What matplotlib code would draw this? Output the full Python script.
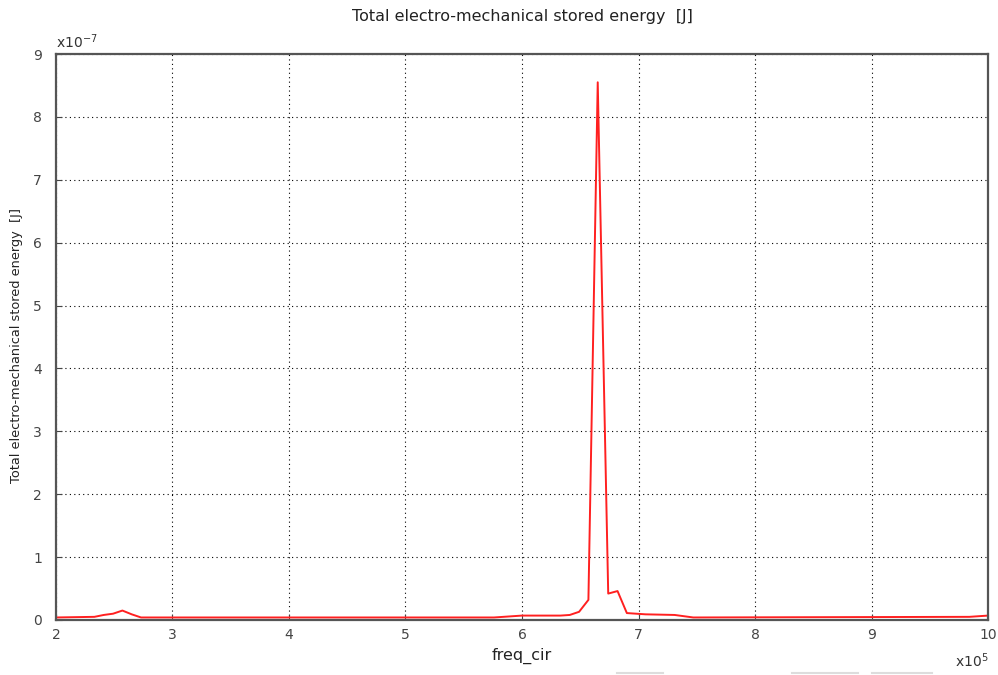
import matplotlib
matplotlib.use("Agg")
import matplotlib.pyplot as plt
from matplotlib.lines import Line2D

# frequency sweep breakpoints [x1e5 Hz] and stored energy [x1e-7 J]
freq = [2.00, 2.33, 2.41, 2.49, 2.57, 2.65, 2.73, 5.76, 5.92, 6.00, 6.33,
        6.41, 6.49, 6.57, 6.65, 6.74, 6.82, 6.90, 7.06, 7.31, 7.47, 9.84, 10.00]
energy = [0.04, 0.05, 0.08, 0.10, 0.15, 0.09, 0.04, 0.04, 0.06, 0.07, 0.07,
          0.08, 0.13, 0.32, 8.55, 0.42, 0.46, 0.11, 0.09, 0.08, 0.04, 0.05, 0.07]

xticks = [2, 3, 4, 5, 6, 7, 8, 9, 10]
yticks = [0, 1, 2, 3, 4, 5, 6, 7, 8, 9]

plt.rcParams['font.family'] = ['DejaVu Sans']
fig = plt.figure(figsize=(9.98, 6.75), dpi=100)
ax = fig.add_axes([0.0561, 0.0815, 0.9339, 0.8385])

ax.plot(freq, energy, color='#ff2020', lw=1.4)

ax.set_xlim(2, 10)
ax.set_ylim(0, 9)
ax.set_xticks(xticks)
ax.set_yticks(yticks)
ax.tick_params(direction='in', length=4, labelsize=10, colors='#444444')
ax.tick_params(axis='x', pad=6)
ax.tick_params(axis='y', pad=10)
ax.grid(True, color='black', linestyle=(0, (1, 3)), lw=0.8)
for s in ax.spines.values():
    s.set_color('#555555')
    s.set_linewidth(1.6)

ax.set_title('Total electro-mechanical stored energy  [J]', fontsize=11.5, pad=24, color='#222222')
ax.set_xlabel('freq_cir', fontsize=11.5, labelpad=4, color='#222222')
ax.set_ylabel('Total electro-mechanical stored energy  [J]', fontsize=9.3, color='#222222')
ax.yaxis.set_label_coords(-0.035, 0.485)

ax.text(0.0, 1.005, r'x10$^{-7}$', transform=ax.transAxes, fontsize=10,
        ha='left', va='bottom', color='#333333')
ax.text(1.0, -0.055, r'x10$^{5}$', transform=ax.transAxes, fontsize=10,
        ha='right', va='top', color='#333333')

# faint scroll-bar remnants along the bottom edge
for x0, x1 in [(617, 663), (792, 858), (872, 932)]:
    fig.add_artist(Line2D([x0 / 998, x1 / 998], [0.003, 0.003], color='#dddddd', lw=1.5))

fig.savefig('out.png', dpi=100)
